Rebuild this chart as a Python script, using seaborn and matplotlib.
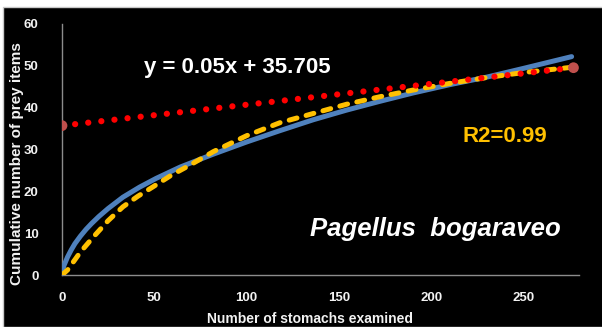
import numpy as np
import pandas as pd
import seaborn as sns
import matplotlib.pyplot as plt
from matplotlib.patches import Rectangle

# observed cumulative curve (blue)
obs_x = [0, 1, 3, 5, 7, 10, 13, 16, 20, 25, 33, 42, 51, 64, 82, 100, 118, 136, 154, 172, 190, 210, 230, 250, 276]
obs_y = [0.5, 2.2, 4.3, 6.0, 7.5, 9.3, 10.9, 12.3, 14.0, 15.9, 18.6, 21, 23.1, 25.8, 28.9, 31.8, 34.5, 37.1, 39.4, 41.5, 43.5, 45.5, 47.3, 49.4, 52.2]

# fitted curve (yellow dashed)
fit_x = [0, 3, 10, 17, 25, 33, 41, 49, 59, 69, 82, 100, 118, 136, 154, 172, 190, 210, 230, 250, 275]
fit_y = [0, 1.2, 5.5, 9.1, 13, 16.3, 18.8, 21, 23.8, 26.2, 29.5, 33.3, 36.4, 38.6, 40.8, 42.6, 44.2, 45.8, 47.2, 48.4, 49.6]

# linear trend (red dotted)
lin_x = [0, 277]
lin_y = [35.705, 49.555]

x_ticks = [0, 50, 100, 150, 200, 250]
y_ticks = [0, 10, 20, 30, 40, 50, 60]

sns.set_style("white")
plt.rcParams['font.family'] = ['Liberation Sans', 'DejaVu Sans']

fig = plt.figure(figsize=(6.02, 3.27), dpi=100, facecolor='white')
fig.patches.append(Rectangle((3 / 602, 0), 1, 1 - 7 / 327, transform=fig.transFigure,
                             facecolor='black', edgecolor='#c8c8c8', linewidth=1, zorder=-10))
ax = fig.add_axes([62 / 602, 1 - 275 / 327, (579 - 62) / 602, (275 - 24) / 327])
ax.set_facecolor('black')

sns.lineplot(x=obs_x, y=obs_y, ax=ax, color='#4f81bd', linewidth=3.6,
             solid_capstyle='round', solid_joinstyle='round', zorder=3)
sns.lineplot(x=fit_x, y=fit_y, ax=ax, color='#ffc000', linewidth=3.6,
             linestyle=(0, (1.6, 1.9)), dash_capstyle='round', zorder=4)
sns.lineplot(x=lin_x, y=lin_y, ax=ax, color='#ff0000', linewidth=4.5,
             linestyle=(0, (0.01, 2.1)), dash_capstyle='round', zorder=5)
sns.scatterplot(x=lin_x, y=lin_y, ax=ax, color='#c0504d', s=60, edgecolor='none', zorder=6)

ax.set_xlim(0, 280)
ax.set_ylim(0, 60)
ax.set_xticks(x_ticks)
ax.set_yticks(y_ticks)
ax.tick_params(axis='both', length=0, colors='#f2f2f2', labelsize=9.5)
ax.tick_params(axis='x', pad=12)
ax.tick_params(axis='y', pad=17)
for lab in ax.get_xticklabels() + ax.get_yticklabels():
    lab.set_fontweight('bold')

for s in ['top', 'right']:
    ax.spines[s].set_visible(False)
for s in ['left', 'bottom']:
    ax.spines[s].set_color('#8c8c8c')
    ax.spines[s].set_linewidth(1)

ax.set_xlabel('Number of stomachs examined', color='#f2f2f2', fontsize=10,
              fontweight='bold')
ax.xaxis.set_label_coords(0.48, -0.148)
ax.set_ylabel('Cumulative number of prey items', color='#f2f2f2', fontsize=11,
              fontweight='bold')
ax.yaxis.set_label_coords(-0.074, 0.442)

ax.text(95, 49.5, 'y = 0.05x + 35.705', color='white', fontsize=16,
        fontweight='bold', ha='center', va='center')
ax.text(240, 33, 'R2=0.99', color='#ffc000', fontsize=16,
        fontweight='bold', ha='center', va='center')
ax.text(202, 11, 'Pagellus  bogaraveo', color='white', fontsize=18.5,
        fontweight='bold', fontstyle='italic', ha='center', va='center')

fig.savefig('out.png', dpi=100, facecolor=fig.get_facecolor())
